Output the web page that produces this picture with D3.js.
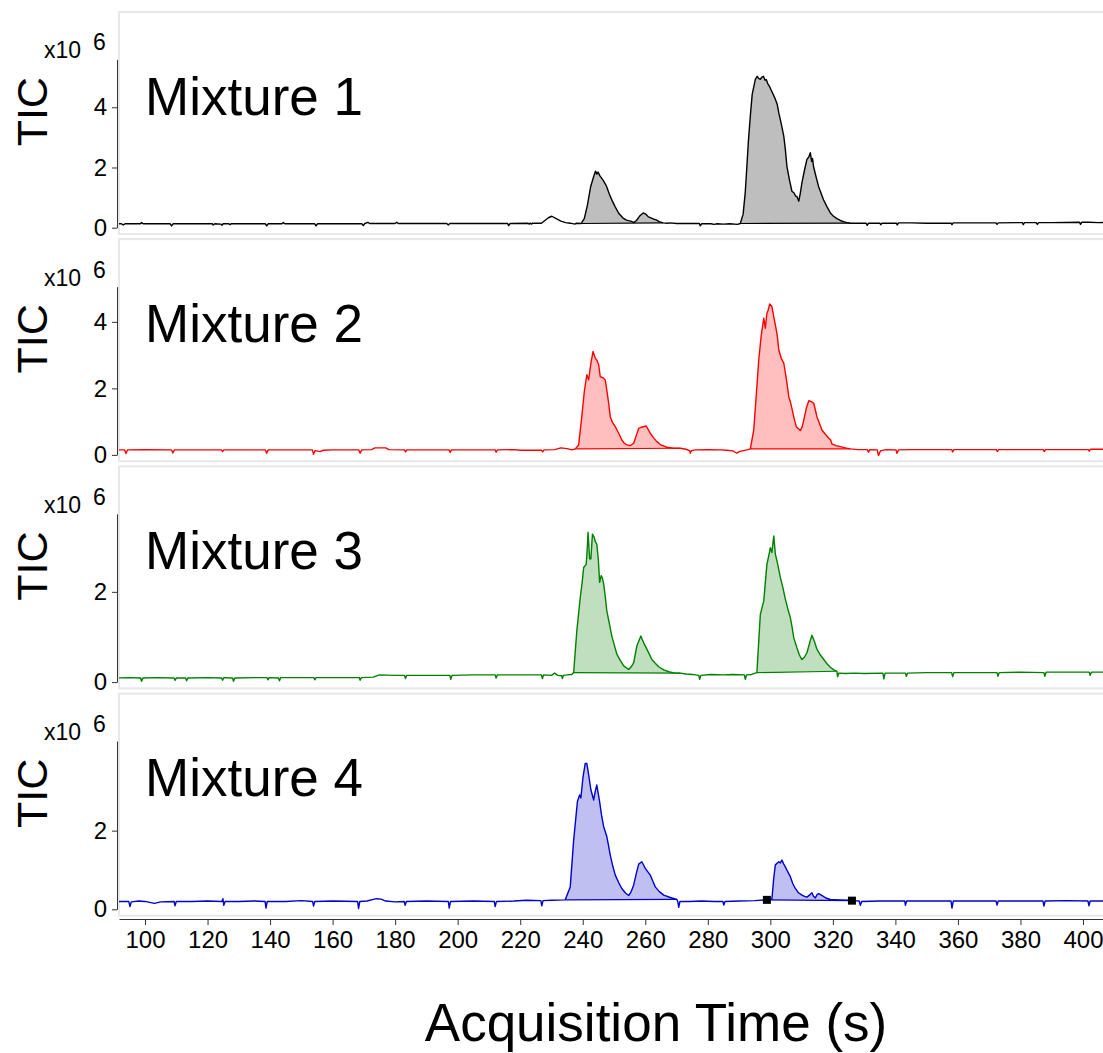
<!DOCTYPE html>
<html>
<head>
<meta charset="utf-8">
<script src="https://cdn.jsdelivr.net/npm/d3@7"></script>
<style>
  body { margin: 0; background: #fff; }
  svg { font-family: "Liberation Sans", Arial, sans-serif; }
</style>
</head>
<body>
<svg id="svg" width="1103" height="1053"></svg>
<script>
// traces: [time (s), TIC x10^6]
var mix1 = [[90,0.13],[92.5,0.13],[93,0.09],[93.6,0.13],[98.5,0.13],[98.9,0.17],[99.4,0.13],[108,0.13],[108.5,0.06],[109,0.13],[121.5,0.13],[121.8,0.09],[122.3,0.13],[124.3,0.12],[124.6,0.08],[125,0.13],[126.8,0.13],[127.2,0.1],[127.6,0.13],[138.5,0.13],[138.9,0.06],[139.4,0.13],[143.8,0.13],[144.2,0.17],[144.7,0.13],[154.3,0.13],[154.7,0.06],[155.2,0.13],[169.4,0.13],[169.8,0.07],[170.3,0.14],[171.3,0.18],[171.8,0.14],[180,0.14],[180.5,0.18],[181,0.14],[196.5,0.14],[197,0.09],[197.5,0.14],[216,0.14],[216.3,0.07],[216.8,0.14],[222.5,0.15],[222.8,0.12],[223.2,0.15],[223.6,0.12],[224,0.15],[226.8,0.15],[228,0.25],[229,0.33],[230.1,0.38],[231.5,0.3],[233,0.22],[234.5,0.17],[236,0.15],[237.5,0.12],[238,0.15],[239.5,0.14],
  [240.5,0.3],[241.5,0.75],[242.5,1.35],[243.5,1.7],[244.1,1.88],[244.5,1.78],[244.9,1.85],[245.5,1.72],[246.5,1.58],[247.6,1.38],[248.5,1.12],[249.4,0.9],[250.3,0.71],[251.5,0.48],[252.9,0.32],[254,0.25],[255.6,0.21],[256.3,0.17],[257.2,0.24],[258.3,0.4],[259.3,0.49],[260.2,0.45],[261,0.36],[262,0.32],[262.8,0.28],[263.5,0.26],[264.5,0.2],[265.7,0.16],[267,0.15],[268,0.16],[270,0.14],[272,0.14],[277.3,0.14],[277.6,0.06],[278,0.13],[281,0.13],[282,0.11],[283,0.13],[285,0.12],[287,0.13],[289.5,0.11],[290.4,0.14],
  [291.3,0.45],[292,1.2],[292.5,2.04],[293,2.9],[293.6,3.71],[294.2,4.43],[295.2,4.93],[295.8,5.03],[296.3,4.95],[296.8,4.93],[297.3,5.0],[297.8,5.03],[298.3,4.9],[298.7,4.92],[299.2,4.78],[299.7,4.7],[300.6,4.5],[301.6,4.27],[302.2,4.1],[302.7,3.82],[303.5,3.45],[304.3,3.04],[304.8,2.6],[305.3,2.04],[306.1,1.6],[306.9,1.21],[307.6,1.15],[308.1,1.05],[308.5,1.04],[309.1,0.88],[309.6,1.15],[310.1,1.49],[310.9,1.9],[311.7,2.27],[312.3,2.35],[312.8,2.49],[313.2,2.2],[313.5,2.3],[313.8,2.04],[314.6,1.7],[315.4,1.38],[316.2,1.15],[317,0.93],[318.1,0.7],[319.2,0.49],[320.2,0.38],[321.3,0.3],[322.4,0.24],[323.4,0.2],[324.5,0.17],[325.5,0.15],[327,0.15],[330.6,0.15],[331,0.08],[331.4,0.15],[335,0.15],[335.3,0.1],[335.7,0.15],[340.3,0.15],[340.6,0.09],[341,0.16],[345,0.16],[350,0.15],[357.8,0.15],[358.1,0.1],[358.5,0.16],[365,0.16],[372.2,0.16],[372.5,0.11],[372.9,0.16],[380.6,0.17],[380.9,0.1],[381.3,0.17],[385,0.17],[385.4,0.11],[385.8,0.17],[390,0.17],[398.9,0.18],[399.2,0.11],[399.6,0.18],[402,0.18],[405,0.17],[408,0.18]];

var mix2 = [[90,0.15],[93.5,0.15],[93.9,0.04],[94.4,0.15],[100,0.16],[108.5,0.15],[108.9,0.06],[109.4,0.15],[115,0.15],[124.5,0.15],[124.8,0.1],[125.2,0.15],[130,0.15],[138.5,0.15],[138.9,0.05],[139.4,0.15],[145,0.15],[153.5,0.15],[153.9,0.02],[154.4,0.13],[156,0.1],[157,0.14],[160,0.15],[168.4,0.15],[168.8,0.05],[169.3,0.15],[172.5,0.16],[173.5,0.21],[177,0.21],[178,0.16],[183,0.15],[183.3,0.09],[183.7,0.15],[190,0.15],[197.3,0.15],[197.6,0.07],[198,0.15],[205,0.15],[212,0.15],[212.3,0.08],[212.7,0.15],[218,0.16],[220,0.14],[226.8,0.14],[227.2,0.09],[227.6,0.15],[231,0.16],[233,0.21],[235,0.19],[236.5,0.15],[237.6,0.18],
  [238.7,0.3],[239.7,1.15],[240.5,1.9],[241.3,2.41],[241.9,2.26],[242.6,2.75],[243.3,3.11],[244,2.91],[244.5,2.85],[245.1,2.71],[245.6,2.35],[246.2,2.33],[246.7,2.31],[247.2,2.25],[247.7,1.95],[248.3,1.55],[248.8,1.15],[249.5,0.98],[250.4,0.85],[251.5,0.65],[252.5,0.45],[253.3,0.35],[254.1,0.3],[255.2,0.28],[256.3,0.35],[257,0.55],[257.9,0.8],[259,0.84],[260.3,0.87],[261,0.75],[261.6,0.65],[262.6,0.52],[263.7,0.4],[265,0.3],[266.9,0.23],[269,0.2],[271.2,0.2],[273,0.17],[274.2,0.13],[274.4,0.05],[274.8,0.13],[276,0.15],[280,0.16],[284,0.15],[286,0.14],[288,0.12],[289.3,0.05],[290,0.1],[292.5,0.15],[293.6,0.18],
  [294.7,0.75],[295.5,1.8],[296.3,2.86],[297.1,3.6],[297.9,4.11],[298.4,3.81],[298.9,4.26],[299.3,4.35],[299.8,4.54],[300.5,4.46],[301,4.2],[301.6,3.91],[302.2,3.6],[302.7,3.16],[303.5,2.9],[304.3,2.76],[305.1,2.3],[305.9,1.75],[306.4,1.6],[306.9,1.4],[307.6,1.1],[308.3,0.85],[309.6,0.73],[310.2,0.85],[310.7,1.05],[311.5,1.4],[312.3,1.63],[313.1,1.6],[313.9,1.55],[314.4,1.35],[314.9,1.15],[315.7,0.95],[316.5,0.75],[317.6,0.62],[318.7,0.5],[319.3,0.45],[319.7,0.33],[321,0.28],[322.4,0.25],[324,0.21],[325.6,0.18],[328,0.16],[331,0.16],[331.4,0.08],[331.8,0.16],[334.2,0.15],[334.6,-0.02],[335.2,0.12],[337,0.16],[340.2,0.15],[340.5,0.05],[341,0.15],[345,0.16],[350,0.16],[358,0.16],[358.3,0.09],[358.7,0.16],[365,0.16],[372.3,0.16],[372.6,0.1],[373,0.16],[380,0.16],[387.3,0.16],[387.6,0.1],[388,0.16],[395,0.16],[401.7,0.16],[402,0.11],[402.4,0.17],[408,0.17]];

var mix3 = [[90,0.09],[95,0.1],[98.6,0.09],[98.9,0.02],[99.3,0.09],[104,0.1],[109.3,0.09],[109.6,0.04],[110,0.09],[113,0.09],[113.3,0.03],[113.7,0.09],[120,0.1],[124.5,0.09],[124.8,0.04],[125.2,0.1],[128,0.09],[128.3,0.02],[128.7,0.09],[135,0.1],[139,0.1],[139.3,0.05],[139.7,0.1],[142.7,0.09],[143,0.03],[143.4,0.1],[150,0.1],[154,0.1],[154.3,0.05],[154.7,0.1],[160,0.1],[168.5,0.1],[168.8,0.04],[169.2,0.1],[173,0.11],[175,0.16],[180,0.15],[183,0.15],[183.3,0.08],[183.7,0.15],[190,0.15],[197.5,0.15],[197.8,0.06],[198.2,0.15],[205,0.16],[212,0.16],[212.3,0.09],[212.7,0.16],[220,0.16],[226.8,0.16],[227.1,0.08],[227.5,0.16],[230,0.15],[231,0.2],[232,0.15],[233.3,0.14],[233.5,0.08],[233.8,0.15],[235,0.16],[236.5,0.17],[237.1,0.21],
  [238.1,1.13],[239.2,1.87],[239.8,2.2],[240.3,2.54],[241.1,2.61],[241.4,2.9],[241.7,3.32],[242.2,2.73],[242.6,2.73],[243.1,3.28],[243.6,3.22],[244.1,3.1],[244.5,3.06],[245,2.7],[245.4,2.21],[245.9,2.36],[246.3,2.3],[246.7,2.17],[247.2,1.9],[247.7,1.58],[248.5,1.3],[249.3,1.02],[250.1,0.82],[250.9,0.62],[252,0.48],[253.1,0.36],[254.7,0.28],[255.5,0.34],[256.3,0.43],[257.3,0.8],[258,0.92],[258.6,1.02],[259,0.95],[259.5,0.87],[260.5,0.73],[261.3,0.62],[262.1,0.5],[263.2,0.42],[264.3,0.34],[265.9,0.27],[267.5,0.23],[269.5,0.2],[271.2,0.2],[273,0.18],[275,0.17],[277.1,0.15],[277.4,0.06],[277.8,0.15],[281,0.17],[285,0.16],[288,0.17],[291.7,0.16],[292,0.06],[292.4,0.16],[294,0.17],[295.7,0.21],
  [296.8,1.5],[297.9,1.8],[298.9,2.61],[299.5,2.8],[300,2.98],[300.5,2.87],[301.1,3.24],[301.6,2.84],[302.4,2.6],[303.2,2.32],[304,2.1],[304.8,1.84],[305.6,1.62],[306.4,1.43],[307,1.2],[307.5,0.98],[308.5,0.76],[309.3,0.6],[310.1,0.5],[310.9,0.55],[311.7,0.65],[312.5,0.85],[313.3,1.04],[314.1,0.9],[314.9,0.73],[316,0.6],[317.1,0.5],[318.2,0.4],[319.2,0.33],[320.3,0.27],[321.3,0.24],[321.5,0.12],[321.9,0.2],[324,0.19],[327,0.2],[330,0.19],[336,0.2],[336.3,0.07],[336.7,0.2],[340,0.2],[343.2,0.2],[343.5,0.13],[343.9,0.2],[350,0.21],[358,0.21],[358.3,0.12],[358.7,0.21],[365,0.21],[372.5,0.21],[372.8,0.13],[373.2,0.21],[380,0.22],[387.5,0.21],[387.8,0.13],[388.2,0.22],[395,0.22],[402,0.22],[402.3,0.15],[402.7,0.22],[408,0.22]];

var mix4 = [[90,0.2],[94.8,0.2],[95.2,0.07],[95.6,0.19],[98,0.21],[100,0.2],[103,0.15],[105,0.19],[109.3,0.2],[109.6,0.09],[110,0.2],[115,0.2],[120,0.21],[124.6,0.2],[124.9,0.27],[125.2,0.1],[125.6,0.2],[130,0.2],[135,0.21],[138.4,0.2],[138.7,0.03],[139.1,0.2],[145,0.2],[150,0.22],[153.6,0.2],[153.9,0.08],[154.3,0.2],[160,0.21],[168,0.2],[168.3,0.02],[168.7,0.2],[171,0.21],[174,0.27],[175.5,0.26],[177,0.21],[180,0.19],[182.9,0.2],[183.2,0.1],[183.6,0.2],[190,0.21],[197,0.2],[197.3,0.03],[197.7,0.2],[205,0.21],[211.7,0.2],[212,0.07],[212.4,0.2],[218,0.21],[222,0.23],[226.6,0.22],[226.9,0.09],[227.3,0.22],[230,0.23],[234.4,0.24],
  [236,0.57],[237.1,1.76],[238.3,2.74],[239,2.91],[239.4,2.83],[240.1,3.37],[240.8,3.71],[241.3,3.71],[241.9,3.42],[242.6,3.04],[243.5,2.78],[244,3.0],[244.5,3.16],[245.4,2.74],[246,2.4],[246.7,2.1],[247.7,1.85],[248.3,1.6],[248.8,1.38],[249.6,1.1],[250.4,0.87],[251.5,0.68],[252.5,0.53],[253.6,0.42],[254.7,0.35],[255.5,0.45],[256.3,0.62],[257.1,0.9],[257.9,1.15],[258.9,1.21],[259.5,1.12],[260,1.04],[261.6,0.87],[262.4,0.72],[263.2,0.57],[264.5,0.45],[265.9,0.36],[268,0.3],[270.1,0.25],[270.4,0.2],[270.7,0.05],[271.1,0.2],[274,0.2],[278,0.21],[282,0.2],[284.8,0.2],[285.1,0.11],[285.5,0.2],[290,0.21],[295,0.22],[298.9,0.24],
  [300.5,0.26],[301.1,0.8],[301.6,1.13],[302.7,1.21],[303.2,1.18],[303.7,1.25],[304.3,1.15],[304.8,1.08],[305.6,0.95],[306.4,0.83],[307.2,0.65],[308,0.53],[309,0.42],[310.1,0.36],[311,0.33],[311.7,0.31],[312.5,0.36],[313.3,0.42],[313.8,0.33],[314.4,0.29],[315,0.38],[315.5,0.4],[316.3,0.36],[317.1,0.32],[318,0.28],[319.2,0.25],[322,0.24],[325.6,0.23],[326.1,0.22],[328.4,0.21],[328.8,0.1],[329.2,0.2],[335,0.21],[343,0.21],[343.2,0.1],[343.6,0.21],[350,0.21],[357.8,0.21],[358.1,0.03],[358.5,0.21],[365,0.21],[372.2,0.21],[372.5,0.11],[372.9,0.21],[380,0.21],[387.2,0.21],[387.5,0.08],[387.9,0.21],[395,0.22],[401.6,0.21],[401.9,0.09],[402.3,0.21],[408,0.21]];

// integrated peak windows (start, end in s)
var fills1 = [[239.5, 265.7], [290.4, 325.5]];
var fills2 = [[237.6, 271.2], [293.6, 325.6]];
var fills3 = [[237.1, 271.2], [295.7, 321.3]];
var fills4 = [[234.4, 270.1], [298.9, 326.1]];
var marks4 = [298.9, 326.1];

var names = ["Mixture 1", "Mixture 2", "Mixture 3", "Mixture 4"];
var yTop = [5.59, 5.06, 3.73, 4.28];
var yTicks = [[0, 2, 4], [0, 2, 4], [0, 2], [0, 2]];
var xTicks = [100,120,140,160,180,200,220,240,260,280,300,320,340,360,380,400];
var xDomain = [91.68, 406.4];

var series = [mix1, mix2, mix3, mix4];
var fills = [fills1, fills2, fills3, fills4];
var lineCol = ["#000000", "#ff0000", "#008000", "#0000cd"];
var fillCol = ["#bebebe", "#ffbfbf", "#bfdfbf", "#bfbff2"];

var svg = d3.select("svg");
svg.append("rect").attr("width", 1103).attr("height", 1053).attr("fill", "#fff");

var left = 119, right = 1103;
var step = 227.2, axisH = 168.3;

var x = d3.scaleLinear().domain(xDomain).range([left, right]);

svg.append("defs").append("clipPath").attr("id", "clip")
  .append("rect").attr("x", left).attr("y", 0).attr("width", right - left).attr("height", 1053);

series.forEach(function(data, k) {
  var y0 = 227.7 + step * k;
  var y = d3.scaleLinear().domain([0, yTop[k]]).range([y0, y0 - axisH]);

  // panel frame
  svg.append("rect")
    .attr("x", left).attr("y", 12 + step * k)
    .attr("width", right - left + 10).attr("height", 222)
    .attr("fill", "none").attr("stroke", "#e8e8e8").attr("stroke-width", 2);

  var g = svg.append("g").attr("clip-path", "url(#clip)");

  // filled peaks: between trace and the straight chord across the window
  fills[k].forEach(function(w) {
    var seg = data.filter(d => d[0] >= w[0] && d[0] <= w[1]);
    var a = seg[0], b = seg[seg.length - 1];
    var chord = d3.scaleLinear().domain([a[0], b[0]]).range([a[1], b[1]]);
    var area = d3.area()
      .x(d => x(d[0]))
      .y0(d => y(chord(d[0])))
      .y1(d => y(d[1]));
    g.append("path").datum(seg).attr("d", area)
      .attr("fill", fillCol[k]).attr("stroke", "none");
    g.append("line")
      .attr("x1", x(a[0])).attr("y1", y(a[1]))
      .attr("x2", x(b[0])).attr("y2", y(b[1]))
      .attr("stroke", lineCol[k]).attr("stroke-width", 1.2);
  });

  var line = d3.line().x(d => x(d[0])).y(d => y(d[1]));
  g.append("path").datum(data).attr("d", line)
    .attr("fill", "none").attr("stroke", lineCol[k])
    .attr("stroke-width", 1.4).attr("stroke-linejoin", "round");

  if (k == 3) {
    marks4.forEach(function(t) {
      var p = data.find(d => d[0] == t);
      g.append("rect")
        .attr("x", x(t) - 4).attr("y", y(p[1]) - 4)
        .attr("width", 8).attr("height", 8).attr("fill", "#000");
    });
  }

  // y axis
  var ax = svg.append("g").attr("transform", "translate(117,0)")
    .call(d3.axisLeft(y).tickValues(yTicks[k]).tickFormat(d3.format("d"))
      .tickSize(5).tickSizeOuter(0).tickPadding(5));
  ax.select(".domain").attr("stroke", "#333");
  ax.selectAll(".tick line").attr("stroke", "#333");
  ax.selectAll("text").attr("font-size", 24).attr("fill", "#000")
    .attr("font-family", "Liberation Sans, Arial, sans-serif");

  svg.append("text").attr("x", 44).attr("y", y0 - axisH - 1)
    .attr("font-size", 23).text("x10");
  svg.append("text").attr("x", 93).attr("y", y0 - axisH - 9)
    .attr("font-size", 23).text("6");

  svg.append("text")
    .attr("transform", "translate(47," + (y0 - 116) + ") rotate(-90)")
    .attr("text-anchor", "middle").attr("font-size", 43).text("TIC");

  svg.append("text").attr("x", 145).attr("y", y0 - 113)
    .attr("font-size", 53).text(names[k]);
});

// x axis
var xa = svg.append("g").attr("transform", "translate(0,919)")
  .call(d3.axisBottom(x).tickValues(xTicks).tickSize(6).tickSizeOuter(0).tickPadding(6));
xa.select(".domain").attr("stroke", "#333");
xa.selectAll(".tick line").attr("stroke", "#333");
xa.selectAll("text").attr("font-size", 24).attr("fill", "#000")
  .attr("font-family", "Liberation Sans, Arial, sans-serif");

svg.append("text").attr("x", 656).attr("y", 1041)
  .attr("text-anchor", "middle").attr("font-size", 53)
  .text("Acquisition Time (s)");
</script>
</body>
</html>
